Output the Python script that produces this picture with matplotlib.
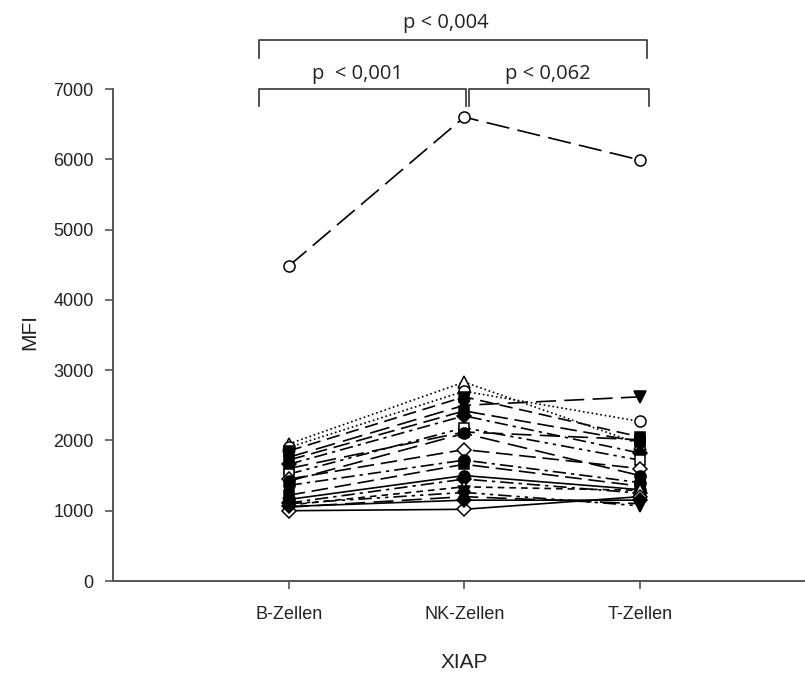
import matplotlib
matplotlib.use("Agg")
import matplotlib.pyplot as plt

categories = ["B-Zellen", "NK-Zellen", "T-Zellen"]
y_ticks = [0, 1000, 2000, 3000, 4000, 5000, 6000, 7000]

# MFI values per donor (B, NK, T)
series = [
    [4480, 6600, 5990],
    [1950, 2830, 1950],
    [1900, 2700, 2270],
    [1850, 2620, 2050],
    [1760, 2500, 2620],
    [1720, 2420, 1980],
    [1660, 2350, 1820],
    [1600, 2120, 2010],
    [1520, 2180, 1720],
    [1450, 1870, 1600],
    [1420, 2100, 1500],
    [1360, 1720, 1400],
    [1220, 1660, 1350],
    [1160, 1500, 1300],
    [1110, 1450, 1250],
    [1080, 1340, 1290],
    [1050, 1200, 1100],
    [1000, 1020, 1200],
    [1060, 1150, 1150],
    [1100, 1260, 1070],
]
markers = ["o", "^", "o", "s", "v", "s", "D", "s", "s", "D",
           "o", "o", "s", "o", "D", "^", "v", "D", "D", "v"]
filled = [False, False, False, True, True, True, True, True, False, False,
          True, True, True, True, True, False, True, False, True, True]
styles = [(0, (14, 5)), ":", ":", (0, (8, 4)), (0, (12, 5)), (0, (10, 4)),
          (0, (8, 3, 2, 3)), (0, (12, 5)), (0, (8, 3, 2, 3, 2, 3)), (0, (10, 4)),
          (0, (12, 5)), (0, (8, 3, 2, 3)), (0, (10, 4)), "-", (0, (8, 3, 2, 3)),
          (0, (4, 3)), (0, (12, 5)), "-", "-", (0, (8, 3, 2, 3, 2, 3))]

fig = plt.figure(figsize=(8.05, 6.75), dpi=100)
ax = fig.add_axes([113 / 805, 94 / 675, (815.5 - 113) / 805, 492 / 675])
ax.set_xlim(0, 4)
ax.set_ylim(0, 7000)

x = [1, 2, 3]
for vals, m, f, ls in zip(series, markers, filled, styles):
    ax.plot(x, vals, color="black", linestyle=ls, linewidth=1.2,
            marker=m, markersize=8 if m in "o^v" else 7,
            markerfacecolor="black" if f else "white",
            markeredgecolor="black", markeredgewidth=1.1, clip_on=False)

for s in ["top", "right"]:
    ax.spines[s].set_visible(False)
for s in ["left", "bottom"]:
    ax.spines[s].set_color("#555555")
    ax.spines[s].set_linewidth(1.4)
ax.set_xticks(x)
ax.set_xticklabels(categories, fontsize=13, family="Liberation Sans", color="#222222")
ax.set_yticks(y_ticks)
ax.set_yticklabels([str(v) for v in y_ticks], fontsize=13, family="Liberation Sans", color="#222222")
ax.tick_params(axis="both", direction="out", length=6, color="#555555", width=1.2, pad=8)
ax.tick_params(axis="x", pad=12)

fig.text(464 / 805, 1 - 663 / 675, "XIAP", ha="center", va="center",
         fontsize=15, family="Liberation Sans", color="#222222")
fig.text(30 / 805, 1 - 332 / 675, "MFI", ha="center", va="center", rotation=90,
         fontsize=15, family="Liberation Sans", color="#222222")

# significance brackets (figure pixel coords)
def bracket(x0, x1, ytop, ybot):
    X = [x0 / 805, x0 / 805, x1 / 805, x1 / 805]
    Y = [1 - ybot / 675, 1 - ytop / 675, 1 - ytop / 675, 1 - ybot / 675]
    fig.add_artist(plt.Line2D(X, Y, color="#333333", linewidth=1.2))

bracket(259, 647, 40, 58)
bracket(259, 466, 89, 106)
bracket(469, 649, 89, 106)
fig.text(446 / 805, 1 - 23 / 675, "p < 0,004", ha="center", va="center",
         fontsize=14.5, family="Open Sans", color="#222222")
fig.text(357 / 805, 1 - 74 / 675, "p  < 0,001", ha="center", va="center",
         fontsize=14.5, family="Open Sans", color="#222222")
fig.text(548 / 805, 1 - 74 / 675, "p < 0,062", ha="center", va="center",
         fontsize=14.5, family="Open Sans", color="#222222")

fig.savefig("out.png", dpi=100)
